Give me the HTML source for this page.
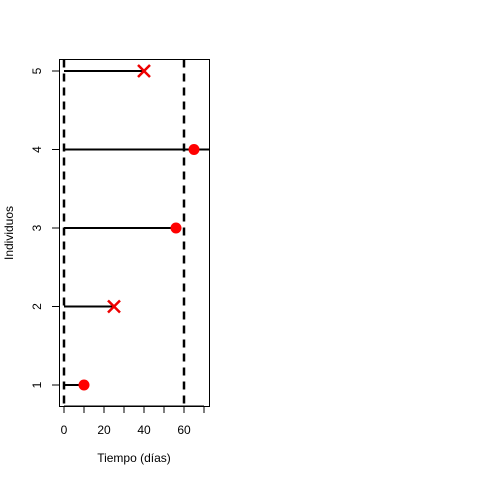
<!DOCTYPE html>
<html><head><meta charset="utf-8"><style>body{margin:0;background:#fff}svg{display:block}text{font-family:"Liberation Sans",sans-serif;font-size:12px;fill:#000}</style></head>
<body>
<svg width="480" height="480">
<script>
const ids=[1,2,3,4,5];
const times=[10,25,56,65,40];
const status=[1,0,1,1,0];
const xTicks=[0,10,20,30,40,50,60,70];
const xLabels=[0,20,40,60];
const refLines=[0,60];
</script>
<defs><clipPath id="c"><rect x="59.5" y="59.5" width="150" height="347"/></clipPath></defs>
<rect x="59.5" y="59.5" width="150" height="347" fill="none" stroke="#000"/>
<g id="g"></g>
<text x="134" y="462" text-anchor="middle">Tiempo (días)</text>
<text transform="translate(13,233) rotate(-90)" text-anchor="middle">Individuos</text>
<script>
const X=v=>64+2*v, Y=v=>385-78.5*(v-1);
const NS='http://www.w3.org/2000/svg', g=document.getElementById('g');
function mk(t,a,p){const e=document.createElementNS(NS,t);for(const k in a)e.setAttribute(k,a[k]);(p||g).appendChild(e);return e;}
xTicks.forEach(v=>{const e=mk('line',{x1:X(v),x2:X(v),y1:406,y2:413,stroke:'#000'});

});
mk('line',{x1:X(0),x2:X(70),y1:406,y2:406,stroke:'#000'});
xLabels.forEach(v=>{const e=mk('text',{x:X(v),y:434,'text-anchor':'middle'});e.textContent=v;

});
ids.forEach(v=>{mk('line',{x1:52,x2:59.5,y1:Y(v),y2:Y(v),stroke:'#000'});
const t=mk('text',{transform:`translate(41,${Y(v)}) rotate(-90)`,'text-anchor':'middle'});t.textContent=v;

});
const cg=mk('g',{'clip-path':'url(#c)'});
refLines.forEach(v=>{const e=mk('line',{x1:X(v),x2:X(v),y1:59.5,y2:406,stroke:'#000','stroke-width':2.5,'stroke-dasharray':'8,6'},cg);

});
ids.forEach((id,i)=>{const t=times[i],y=Y(id);
const end=(id===4)?80:t;
const l=mk('line',{x1:X(0),x2:X(end),y1:y,y2:y,stroke:'#000','stroke-width':2},cg);


let m;
if(status[i]){m=mk('circle',{cx:X(t),cy:y,r:5.5,fill:'#f00'},cg);}
else{m=mk('path',{d:`M${X(t)-6},${y-6}L${X(t)+6},${y+6}M${X(t)-6},${y+6}L${X(t)+6},${y-6}`,stroke:'#e00','stroke-width':2.5},cg);}

});
</script>
</svg>
</body></html>
